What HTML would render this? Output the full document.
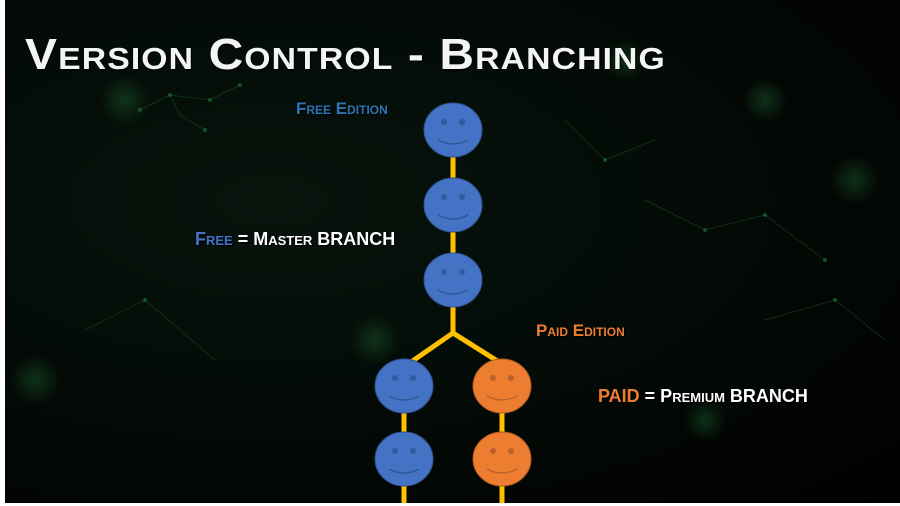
<!DOCTYPE html>
<html><head><meta charset="utf-8"><style>
html,body{margin:0;padding:0;background:#fff}
#c{position:absolute;left:5px;top:0;width:895px;height:503px;background:radial-gradient(ellipse at 30% 40%,#07140c 0%,#030805 60%,#000 100%);overflow:hidden}
.t{position:absolute;font-family:"Liberation Sans",sans-serif;font-weight:900;font-variant:small-caps;white-space:nowrap;text-shadow:1px 1px 1px #000}
</style></head><body>
<div id="c">
<svg width="895" height="503" style="position:absolute;left:0;top:0">
<defs><radialGradient id="g"><stop offset="0" stop-color="#1a5a2a" stop-opacity="0.5"/><stop offset="1" stop-color="#1a5a2a" stop-opacity="0"/></radialGradient></defs>
<g fill="url(#g)">
<circle cx="120" cy="100" r="25"/><circle cx="370" cy="340" r="25"/><circle cx="760" cy="100" r="22"/><circle cx="850" cy="180" r="25"/><circle cx="30" cy="380" r="25"/><circle cx="620" cy="60" r="20"/><circle cx="700" cy="420" r="22"/>
</g>
<g stroke="#1a5a2a" stroke-width="1" opacity="0.45" fill="none">
<path d="M135 110 L165 95 L205 100 L235 85 M165 95 L175 115 L200 130 M640 200 L700 230 L760 215 L820 260 M80 330 L140 300 L210 360 M760 320 L830 300 L880 340 M560 120 L600 160 L650 140"/>
</g>
<g fill="#1f7a3a" opacity="0.6">
<circle cx="135" cy="110" r="2"/><circle cx="165" cy="95" r="2"/><circle cx="205" cy="100" r="2"/><circle cx="235" cy="85" r="2"/><circle cx="200" cy="130" r="2"/><circle cx="700" cy="230" r="2"/><circle cx="760" cy="215" r="2"/><circle cx="820" cy="260" r="2"/><circle cx="140" cy="300" r="2"/><circle cx="830" cy="300" r="2"/><circle cx="600" cy="160" r="2"/>
</g>
<g stroke="#ffc000" stroke-width="5" fill="none">
<line x1="448" y1="130" x2="448" y2="333"/>
<polyline points="399,386 399,503"/>
<polyline points="497,386 497,503"/>
<polyline points="406,362 448,333 494,362"/>
</g>
<g stroke="#2f528f" stroke-width="1">
<ellipse cx="448" cy="130" rx="29" ry="27" fill="#4472c4"/>
<ellipse cx="448" cy="205" rx="29" ry="27" fill="#4472c4"/>
<ellipse cx="448" cy="280" rx="29" ry="27" fill="#4472c4"/>
<ellipse cx="399" cy="386" rx="29" ry="27" fill="#4472c4"/>
<ellipse cx="399" cy="459" rx="29" ry="27" fill="#4472c4"/>
<ellipse cx="497" cy="386" rx="29" ry="27" fill="#ed7d31" stroke="#ae5a21"/>
<ellipse cx="497" cy="459" rx="29" ry="27" fill="#ed7d31" stroke="#ae5a21"/>
</g>
<g fill="#2f5597" opacity="0.8">
<circle cx="439" cy="122" r="3"/><circle cx="457" cy="122" r="3"/>
<circle cx="439" cy="197" r="3"/><circle cx="457" cy="197" r="3"/>
<circle cx="439" cy="272" r="3"/><circle cx="457" cy="272" r="3"/>
<circle cx="390" cy="378" r="3"/><circle cx="408" cy="378" r="3"/>
<circle cx="390" cy="451" r="3"/><circle cx="408" cy="451" r="3"/>
</g>
<g fill="#b8612a">
<circle cx="488" cy="378" r="3"/><circle cx="506" cy="378" r="3"/>
<circle cx="488" cy="451" r="3"/><circle cx="506" cy="451" r="3"/>
</g>
<g fill="none" stroke-width="1.3">
<path d="M433 140 Q448 148 463 140" stroke="#2f5597"/>
<path d="M433 215 Q448 223 463 215" stroke="#2f5597"/>
<path d="M433 290 Q448 298 463 290" stroke="#2f5597"/>
<path d="M384 396 Q399 404 414 396" stroke="#2f5597"/>
<path d="M384 469 Q399 477 414 469" stroke="#2f5597"/>
<path d="M482 396 Q497 404 512 396" stroke="#b8612a"/>
<path d="M482 469 Q497 477 512 469" stroke="#b8612a"/>
</g>
</svg>
<div class="t" style="left:20px;top:30px;font-size:44px;color:#f4f4f4;letter-spacing:1px;transform:scaleX(1.09);transform-origin:left">Version Control - Branching</div>
<div class="t" style="left:291px;top:99px;font-size:17px;color:#2e75b6">Free Edition</div>
<div class="t" style="left:190px;top:229px;font-size:18px;color:#fff"><span style="color:#4472c4">Free</span> = Master BRANCH</div>
<div class="t" style="left:531px;top:321px;font-size:17px;color:#ed7d31">Paid Edition</div>
<div class="t" style="left:593px;top:386px;font-size:18px;color:#fff"><span style="color:#ed7d31">PAID</span> = Premium BRANCH</div>
</div>
</body></html>
